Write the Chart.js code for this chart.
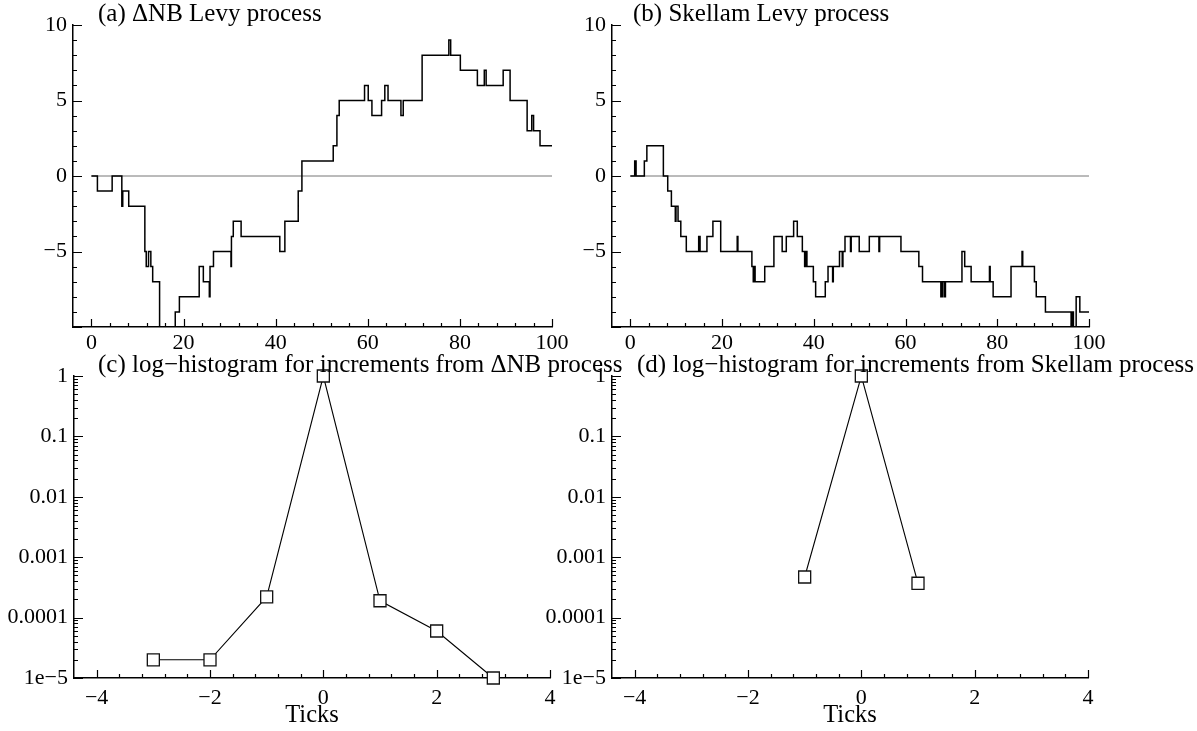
<!DOCTYPE html>
<html><head><meta charset="utf-8">
<script src="https://cdn.jsdelivr.net/npm/chart.js@4.4.1/dist/chart.umd.min.js"></script>
<style>
html,body{margin:0;padding:0;background:#fff;width:1197px;height:731px;overflow:hidden;}
canvas{position:absolute;}
</style></head><body>
<canvas id="ca" width="640" height="365" style="left:0;top:0"></canvas>
<canvas id="cb" width="657" height="365" style="left:540px;top:0"></canvas>
<canvas id="cc" width="640" height="386" style="left:0;top:345px"></canvas>
<canvas id="cd" width="657" height="386" style="left:540px;top:345px"></canvas>
<script>
// ---- data ----
// (a) ΔNB Lévy process: jump times and the level reached at each jump
const nbTimes  = [0,1.3,4.5,6.6,6.8,8.1,11.6,11.9,12.4,12.9,13.3,14.8,18.2,19.1,23.4,24.3,25.6,25.75,26.5,30.3,30.4,30.8,32.5,40.9,42.0,44.9,45.7,52.5,53.3,53.8,59.3,60.1,60.9,63.0,63.7,64.4,67.2,67.7,71.8,77.6,78.0,80.1,83.8,85.3,85.7,89.4,90.9,94.6,95.6,96.0,97.4,100];
const nbLevels = [0,-1,0,-2,-1,-2,-5,-6,-5,-6,-7,-10,-9,-8,-6,-7,-8,-6,-5,-6,-4,-3,-4,-5,-3,-1,1,2,4,5,6,5,4,5,6,5,4,5,8,9,8,7,6,7,6,7,5,3,4,3,2,2];
// (b) Skellam Lévy process
const skTimes  = [0,0.95,1.25,3.05,3.6,7.2,8.15,8.95,9.8,9.95,10.4,11.0,12.2,14.9,15.2,16.7,18.0,19.7,23.3,23.45,26.5,26.8,27.0,27.2,29.3,31.3,33.1,34.0,35.6,36.4,37.5,38.0,38.2,38.5,39.9,40.4,42.5,43.1,44.1,44.25,45.6,46.2,46.35,46.8,48.0,48.15,49.9,52.1,54.2,54.35,59.0,62.9,63.7,67.7,68.0,68.4,68.7,72.3,72.9,74.3,78.3,78.45,79.1,83.0,85.4,85.55,88.1,88.5,90.5,96.1,96.4,96.6,97.2,98.0,100];
const skLevels = [0,1,0,1,2,0,-1,-2,-3,-2,-3,-4,-5,-4,-5,-4,-3,-5,-4,-5,-6,-7,-6,-7,-6,-4,-5,-4,-3,-4,-5,-6,-5,-6,-7,-8,-7,-6,-7,-6,-5,-6,-5,-4,-5,-4,-5,-4,-5,-4,-5,-6,-7,-8,-7,-8,-7,-5,-6,-7,-6,-7,-8,-6,-5,-6,-7,-8,-9,-10,-9,-10,-8,-9,-9];
// zero reference line
const zeroX = [0,100];
const zeroY = [0,0];
// (c),(d) log-histograms of increments
const nbInc  = [-3,-2,-1,0,1,2,3];
const nbFreq = [2.0e-5,2.0e-5,2.2e-4,1.0,1.9e-4,6.0e-5,1.0e-5];
const skInc  = [-1,0,1];
const skFreq = [4.7e-4,1.0,3.7e-4];
// tick labels
const topXTicks = [0,20,40,60,80,100];
const topYTicks = [-5,0,5,10];
const botXTicks = [-4,-2,0,2,4];
const logYTicks = [1e-5,1e-4,1e-3,1e-2,1e-1,1];
const logYLabels = ['1e\u22125','0.0001','0.001','0.01','0.1','1'];
const titles = ['(a) \u0394NB Levy process','(b) Skellam Levy process',
  '(c) log\u2212histogram for increments from \u0394NB process',
  '(d) log\u2212histogram for increments from Skellam process'];

// ---- styling helpers ----
const serif = "'Liberation Serif','Times New Roman',serif";
const minus = v => (v < 0 ? '\u2212' + Math.abs(v) : String(v));
const pts = (xs, ys) => xs.map((x, i) => ({x, y: ys[i]}));

function linMarks(start, count, step, majorEvery, majLen, minLen) {
  const out = [];
  for (let i = 0; i <= count; i++) out.push([start + i * step, i % majorEvery === 0 ? majLen : minLen]);
  return out;
}
function logMarks() {
  const out = [];
  for (let d = -5; d <= 0; d++) {
    out.push([Math.pow(10, d), 9]);
    if (d < 0) for (let m = 2; m <= 9; m++) out.push([m * Math.pow(10, d), 4]);
  }
  return out;
}

const decor = {
  id: 'decor',
  afterDraw(chart, args, o) {
    const ctx = chart.ctx, a = chart.chartArea, xs = chart.scales.x, ys = chart.scales.y;
    ctx.save();
    ctx.strokeStyle = '#000'; ctx.lineWidth = 1.2;
    ctx.beginPath();
    for (const [v, len] of o.xMarks) { const p = Math.round(xs.getPixelForValue(v)) + 0.5; ctx.moveTo(p, a.bottom); ctx.lineTo(p, a.bottom - len); }
    for (const [v, len] of o.yMarks) { const p = Math.round(ys.getPixelForValue(v)) + 0.5; ctx.moveTo(a.left, p); ctx.lineTo(a.left + len, p); }
    ctx.stroke();
    ctx.fillStyle = '#000';
    ctx.font = '25px ' + serif;
    ctx.textAlign = 'left'; ctx.textBaseline = 'alphabetic';
    ctx.fillText(o.title, a.left + o.titleDx, a.top - 4);
    ctx.restore();
  }
};

function topChart(id, times, levels, title, titleDx, padRight, yWidth) {
  return new Chart(document.getElementById(id), {
    type: 'line',
    data: { datasets: [
      { data: pts(times, levels), stepped: true, borderColor: '#000', borderWidth: 1.5, pointRadius: 0, fill: false, order: 1 },
      { data: pts(zeroX, zeroY), borderColor: '#777', borderWidth: 1, pointRadius: 0, fill: false, order: 2 }
    ]},
    options: {
      responsive: false, animation: false,
      layout: { padding: { top: 25, right: padRight, left: 0, bottom: 0 } },
      plugins: { legend: { display: false }, tooltip: { enabled: false },
        decor: { title, titleDx, xMarks: linMarks(0, 25, 4, 5, 8, 4), yMarks: linMarks(-10, 20, 1, 5, 9, 4) } },
      scales: {
        x: { type: 'linear', min: -4, max: 100,
          afterBuildTicks: s => { s.ticks = topXTicks.map(v => ({value: v})); },
          afterFit: s => { s.height = 38; },
          grid: { display: false, drawTicks: false },
          border: { display: true, color: '#000', width: 1.5 },
          ticks: { color: '#000', padding: 3, maxRotation: 0, font: { family: serif, size: 22, lineHeight: 1.2 }, callback: v => minus(v) } },
        y: { type: 'linear', min: -10, max: 10,
          afterBuildTicks: s => { s.ticks = topYTicks.map(v => ({value: v})); },
          afterFit: s => { s.width = yWidth; },
          grid: { display: false, drawTicks: false },
          border: { display: true, color: '#000', width: 1.5 },
          ticks: { color: '#000', padding: 6, font: { family: serif, size: 22, lineHeight: 1.2 }, callback: v => minus(v) } }
      }
    },
    plugins: [decor]
  });
}

function botChart(id, xs, ys, title, titleDx, padRight, yWidth) {
  return new Chart(document.getElementById(id), {
    type: 'line',
    data: { datasets: [
      { data: pts(xs, ys), borderColor: '#000', borderWidth: 1.1, clip: false,
        pointStyle: 'rect', pointRadius: 8.5, pointBorderWidth: 1.3,
        pointBackgroundColor: '#fff', pointBorderColor: '#111', fill: false }
    ]},
    options: {
      responsive: false, animation: false,
      layout: { padding: { top: 31, right: padRight, left: 0, bottom: 0 } },
      plugins: { legend: { display: false }, tooltip: { enabled: false },
        decor: { title, titleDx, xMarks: linMarks(-4, 20, 0.4, 5, 8, 4), yMarks: logMarks() } },
      scales: {
        x: { type: 'linear', min: -4.4, max: 4,
          afterBuildTicks: s => { s.ticks = botXTicks.map(v => ({value: v})); },
          afterFit: s => { s.height = 53; },
          grid: { display: false, drawTicks: false },
          border: { display: true, color: '#000', width: 1.5 },
          title: { display: true, text: 'Ticks', color: '#000', padding: { top: 0, bottom: 1 }, font: { family: serif, size: 24.5, lineHeight: 1.2 } },
          ticks: { color: '#000', padding: 7, maxRotation: 0, font: { family: serif, size: 22, lineHeight: 1.2 }, callback: v => minus(v) } },
        y: { type: 'logarithmic', min: 1e-5, max: 1,
          afterBuildTicks: s => { s.ticks = logYTicks.map(v => ({value: v})); },
          afterFit: s => { s.width = yWidth; },
          grid: { display: false, drawTicks: false },
          border: { display: true, color: '#000', width: 1.5 },
          ticks: { color: '#000', padding: 6, font: { family: serif, size: 22, lineHeight: 1.2 },
            callback: (v, i) => logYLabels[i] } }
      }
    },
    plugins: [decor]
  });
}

topChart('ca', nbTimes, nbLevels, titles[0], 25, 88, 73);
topChart('cb', skTimes, skLevels, titles[1], 21, 108, 72);
botChart('cc', nbInc, nbFreq, titles[2], 24, 90, 74);
botChart('cd', skInc, skFreq, titles[3], 25, 109, 72);
</script>
</body></html>
